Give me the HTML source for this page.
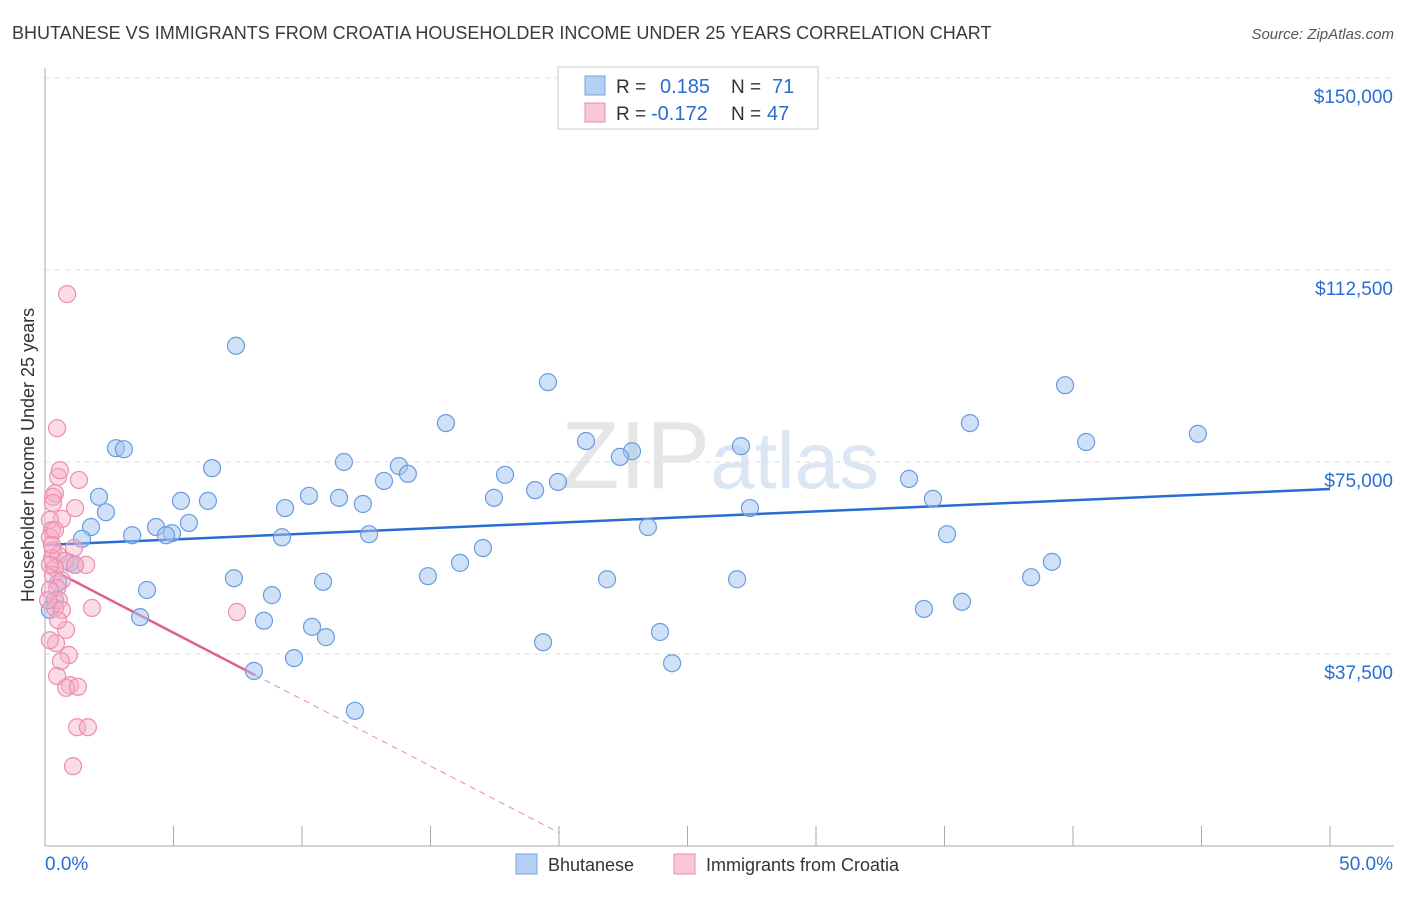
<!DOCTYPE html>
<html><head><meta charset="utf-8"><style>
body{margin:0;background:#fff;font-family:"Liberation Sans",sans-serif;}
svg text{font-family:"Liberation Sans",sans-serif;}
</style></head><body>
<svg id="chart" width="1406" height="892" viewBox="0 0 1406 892" xmlns="http://www.w3.org/2000/svg">
<text x="12" y="39" font-size="18" fill="#3a3a3a">BHUTANESE VS IMMIGRANTS FROM CROATIA HOUSEHOLDER INCOME UNDER 25 YEARS CORRELATION CHART</text>
<text x="1394" y="39" font-size="15" fill="#555" text-anchor="end" font-style="italic">Source: ZipAtlas.com</text>
<text x="720" y="488" font-size="96" text-anchor="middle" fill="#e6e6e6" font-family="Liberation Serif"><tspan>ZIP</tspan><tspan fill="#dbe6f5" font-family="Liberation Sans" font-size="80">atlas</tspan></text>
<text transform="translate(34,455) rotate(-90)" font-size="18" fill="#333" text-anchor="middle">Householder Income Under 25 years</text>
<g id="grid"></g><g id="axes"></g><g id="lines"></g><g id="pts"></g>
<g>
<rect x="558" y="67" width="260" height="62" fill="#fff" stroke="#ccc"/>
<rect x="585" y="76" width="20" height="19" fill="#b6d0f5" stroke="#7aa3e0"/>
<rect x="585" y="103" width="20" height="19" fill="#f9c6d6" stroke="#e98fae"/>
<text x="616" y="93" font-size="19" fill="#333">R =</text><text x="660" y="93" font-size="20" fill="#2a6dd2">0.185</text>
<text x="731" y="93" font-size="19" fill="#333">N =</text><text x="772" y="93" font-size="20" fill="#2a6dd2">71</text>
<text x="616" y="120" font-size="19" fill="#333">R =</text><text x="651" y="120" font-size="20" fill="#2a6dd2">-0.172</text>
<text x="731" y="120" font-size="19" fill="#333">N =</text><text x="767" y="120" font-size="20" fill="#2a6dd2">47</text>
</g>
<g>
<rect x="516" y="854" width="21" height="20" fill="#b6d0f5" stroke="#7aa3e0"/>
<text x="548" y="871" font-size="18" fill="#333">Bhutanese</text>
<rect x="674" y="854" width="21" height="20" fill="#f9c6d6" stroke="#e98fae"/>
<text x="706" y="871" font-size="18" fill="#333">Immigrants from Croatia</text>
</g>
</svg>
<script>
const yTicks=[37500,75000,112500,150000];
const yTickLabels=["$37,500","$75,000","$112,500","$150,000"];
const xTickVals=[0,5,10,15,20,25,30,35,40,45,50];
const blueX=[7.43,19.57,39.69,15.6,35.99,2.76,3.07,21.05,40.51,44.86,27.08,22.84,22.37,6.5,11.63,13.77,14.12,13.19,17.9,19.96,19.07,33.62,2.1,5.29,6.34,10.27,11.44,17.47,34.55,12.37,2.37,9.34,27.43,5.6,1.79,4.32,4.94,4.71,3.39,9.22,12.61,23.46,35.1,1.44,0.97,1.17,17.04,16.15,39.18,7.35,14.9,21.87,26.93,38.37,10.82,3.97,8.83,35.68,34.2,3.7,8.52,10.39,10.93,23.93,19.38,9.69,24.4,8.13,12.06,0.39,0.51,0.19];
const blueY=[97.7,90.6,90.0,82.6,82.6,77.7,77.5,79.1,78.9,80.5,78.1,77.1,76.0,73.8,75.0,74.2,72.7,71.3,72.5,71.1,69.5,71.7,68.2,67.4,67.4,68.4,68.0,68.0,67.8,66.8,65.2,66.0,66.0,63.1,62.3,62.3,61.1,60.7,60.7,60.3,60.9,62.3,60.9,60.0,55.3,54.9,58.2,55.3,55.5,52.3,52.7,52.1,52.1,52.5,51.6,50.0,49.0,47.7,46.3,44.7,44.0,42.8,40.8,41.8,39.8,36.7,35.7,34.2,26.4,48.0,51.4,46.1];
const pinkX=[0.86,0.47,0.51,1.32,0.39,0.31,0.31,1.17,0.66,0.19,0.27,0.19,1.13,0.31,0.51,0.27,1.6,0.78,0.39,0.31,0.66,0.47,1.83,7.47,0.54,0.39,0.82,0.43,0.93,0.62,0.47,0.97,0.82,1.28,1.25,1.67,1.09,0.19,0.19,0.39,0.19,0.66,1.17,0.58,0.12,0.27,0.51];
const pinkY=[107.8,81.6,72.1,71.5,68.9,68.2,67.0,66.0,63.9,63.7,61.7,60.3,58.2,57.8,56.8,56.2,54.9,55.7,54.3,52.9,51.9,50.4,46.5,45.7,48.0,46.5,42.2,39.6,37.3,36.1,33.2,31.4,30.9,31.1,23.2,23.2,15.6,54.9,50.0,61.7,40.2,46.1,54.9,73.4,48.0,58.8,44.1];
const blueTrend=[[0,58785],[50,69720]];
const pinkTrendSolid=[[0,54684],[8.17,33396]];
const pinkTrendDash=[[8.17,33396],[20,2600]];

const NS="http://www.w3.org/2000/svg";
const xs=v=>45+v/50*1285;
const ys=v=>846-v/37500*192;
function mk(tag,attrs,parent){const e=document.createElementNS(NS,tag);for(const k in attrs)e.setAttribute(k,attrs[k]);document.getElementById(parent).appendChild(e);return e;}
yTicks.forEach((t,i)=>{
  const g=mk('line',{x1:45,x2:1394,y1:ys(t),y2:ys(t),stroke:'#ddd','stroke-dasharray':'5,5'},'grid');
  
  
  const tx=mk('text',{x:1393,y:ys(t)+25,'font-size':19,fill:'#2a6dd2','text-anchor':'end'},'axes');
  tx.textContent=yTickLabels[i];
  
  
});
const ax=mk('line',{x1:45,x2:45,y1:68,y2:846,stroke:'#aaa'},'axes');


const bx=mk('line',{x1:45,x2:1394,y1:846,y2:846,stroke:'#aaa'},'axes');


xTickVals.forEach(v=>{
  const t=mk('line',{x1:xs(v),x2:xs(v),y1:826,y2:846,stroke:'#aaa'},'axes');
  
  
});
const xl0=mk('text',{x:45,y:870,'font-size':19,fill:'#2a6dd2'},'axes');xl0.textContent=xTickVals[0].toFixed(1)+"%";


const xl1=mk('text',{x:1393,y:870,'font-size':19,fill:'#2a6dd2','text-anchor':'end'},'axes');xl1.textContent=xTickVals[xTickVals.length-1].toFixed(1)+"%";


blueX.forEach((x,i)=>{
  const c=mk('circle',{cx:xs(x),cy:ys(blueY[i]*1000),r:8.5,fill:'rgba(160,196,240,0.5)',stroke:'#6a9be0','stroke-width':1.2},'pts');
  
  
});
pinkX.forEach((x,i)=>{
  const c=mk('circle',{cx:xs(x),cy:ys(pinkY[i]*1000),r:8.5,fill:'rgba(246,176,200,0.45)',stroke:'#ec8fae','stroke-width':1.2},'pts');
  
  
});
const l1=mk('line',{x1:xs(blueTrend[0][0]),y1:ys(blueTrend[0][1]),x2:xs(blueTrend[1][0]),y2:ys(blueTrend[1][1]),stroke:'#2a6dd2','stroke-width':2.5},'lines');


const l2=mk('line',{x1:xs(pinkTrendSolid[0][0]),y1:ys(pinkTrendSolid[0][1]),x2:xs(pinkTrendSolid[1][0]),y2:ys(pinkTrendSolid[1][1]),stroke:'#e0608a','stroke-width':2.5},'lines');


const l3=mk('line',{x1:xs(pinkTrendDash[0][0]),y1:ys(pinkTrendDash[0][1]),x2:xs(pinkTrendDash[1][0]),y2:ys(pinkTrendDash[1][1]),stroke:'#e88aa8','stroke-width':1,'stroke-dasharray':'6,5'},'lines');


</script>
</body></html>
